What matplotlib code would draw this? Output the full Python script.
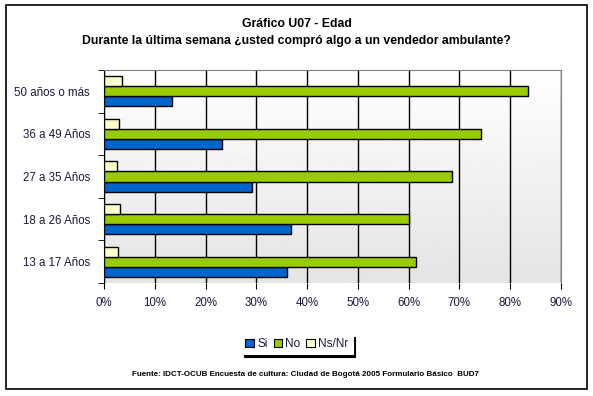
import numpy as np
import matplotlib
matplotlib.use('Agg')
from matplotlib import pyplot as plt
from matplotlib.patches import Rectangle, Patch

plt.rcParams['font.family'] = ['Liberation Sans', 'DejaVu Sans']

# datos
categorias = ['13 a 17 Años', '18 a 26 Años', '27 a 35 Años', '36 a 49 Años', '50 años o más']
si = [36.1, 36.9, 29.2, 23.3, 13.4]
no = [61.5, 60.0, 68.6, 74.3, 83.5]
nsnr = [2.8, 3.2, 2.6, 3.0, 3.6]
xticks = [0, 10, 20, 30, 40, 50, 60, 70, 80, 90]

fig = plt.figure(figsize=(5.93, 3.96), dpi=100)
ax = fig.add_axes([104 / 593, 1 - 283 / 396, 457 / 593, 213 / 396])

# fondo degradado
grad = np.linspace(1.0, 0.895, 256).reshape(-1, 1)
ax.imshow(grad, cmap='gray', vmin=0, vmax=1, aspect='auto',
          extent=[0, 90, -0.5, 4.5], zorder=0)

y = np.arange(len(categorias))
h = 0.235
ax.barh(y - h, si, height=h, color='#0066CC', edgecolor='black', linewidth=1, zorder=3, label='Si')
ax.barh(y, no, height=h, color='#99CC00', edgecolor='black', linewidth=1, zorder=3, label='No')
ax.barh(y + h, nsnr, height=h, color='#FFFFCC', edgecolor='black', linewidth=1, zorder=3, label='Ns/Nr')

ax.set_xlim(0, 90)
ax.set_ylim(-0.5, 4.5)
ax.set_xticks(xticks)
ax.set_xticklabels([f'{v}%' for v in xticks], fontsize=8.3)
ax.set_yticks(y)
ax.set_yticklabels(categorias, fontsize=8.3)
ax.tick_params(axis='y', which='major', length=0, pad=10, colors='#1a1a40')
ax.set_yticks(np.arange(-0.5, 5.0, 1.0), minor=True)
ax.tick_params(axis='y', which='minor', length=4, direction='out', color='black')
ax.tick_params(axis='x', length=4, direction='out', color='black', labelcolor='#1a1a40', pad=6)
ax.grid(axis='x', color='black', linewidth=1, zorder=1)
ax.set_axisbelow(True)

for s in ['top', 'right']:
    ax.spines[s].set_color('#808080')
ax.spines['left'].set_color('black')
ax.spines['bottom'].set_visible(False)

fig.text(0.5, 1 - 24 / 396, 'Gráfico U07 - Edad', ha='center', va='center',
         fontsize=8.8, fontweight='bold')
fig.text(0.5, 1 - 41 / 396,
         'Durante la última semana ¿usted compró algo a un vendedor ambulante?',
         ha='center', va='center', fontsize=8.8, fontweight='bold')

handles = [Patch(facecolor=c, edgecolor='black', linewidth=0.8, label=l)
           for c, l in [('#0066CC', 'Si'), ('#99CC00', 'No'), ('#FFFFCC', 'Ns/Nr')]]
leg = fig.legend(handles=handles, loc='center', bbox_to_anchor=(297 / 593, 1 - 344 / 396),
                 ncol=3, fontsize=8.5, frameon=True, fancybox=False,
                 shadow={'facecolor': 'black', 'edgecolor': 'black', 'alpha': 1},
                 handlelength=0.7, handleheight=0.7, handletextpad=0.3, columnspacing=0.5,
                 borderpad=0.35, borderaxespad=0, labelcolor='#1a1a40')
leg.get_frame().set_edgecolor('white')
leg.get_frame().set_linewidth(0.8)

fig.text(305 / 593, 1 - 375 / 396,
         'Fuente: IDCT-OCUB Encuesta de cultura: Ciudad de Bogotá 2005 Formulario Básico  BUD7',
         ha='center', va='center', fontsize=5.8, fontweight='bold')

fig.patches.append(Rectangle((5.5 / 593, 1 - 389 / 396), 581 / 593, 384 / 396,
                             transform=fig.transFigure, fill=False,
                             edgecolor='black', linewidth=1.2))

fig.savefig('out.png', dpi=100)
